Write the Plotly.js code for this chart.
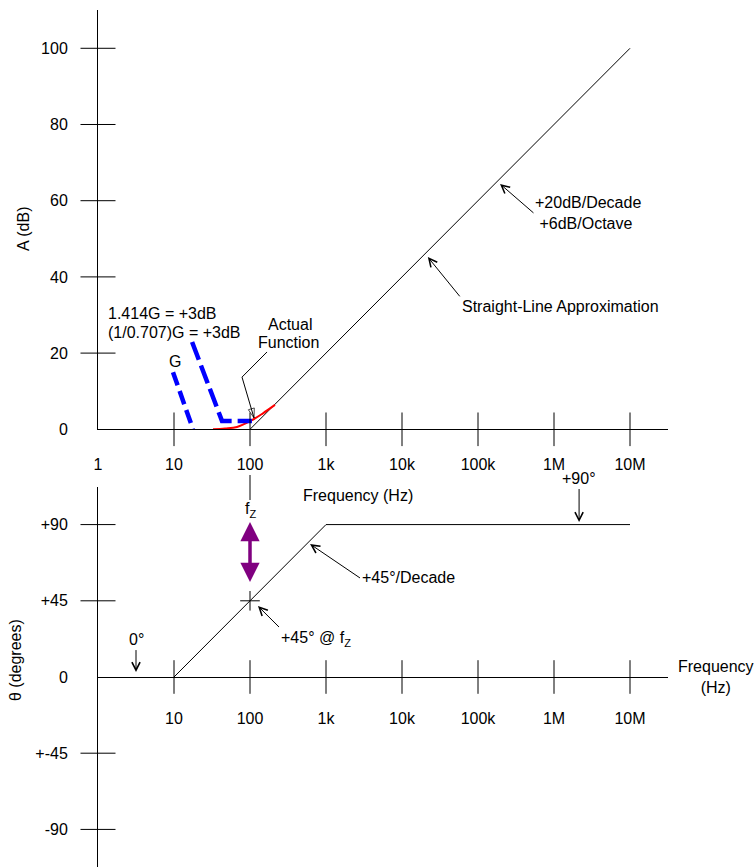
<!DOCTYPE html>
<html>
<head>
<meta charset="utf-8">
<script src="https://cdn.plot.ly/plotly-3.0.1.min.js"></script>
<style>html,body{margin:0;padding:0;background:#fff;}#chart{width:755px;height:867px;}</style>
</head>
<body>
<div id="chart"></div>
<script>
// ---------- data ----------
const freqTicks = [1, 10, 100, 1e3, 1e4, 1e5, 1e6, 1e7];
const freqLabels = ['1', '10', '100', '1k', '10k', '100k', '1M', '10M'];
const gainTicks = [0, 20, 40, 60, 80, 100];
const gainLabels = ['0', '20', '40', '60', '80', '100'];
const phaseTicks = [90, 45, 0, -45, -90];
const phaseLabels = ['+90', '+45', '0', '+-45', '-90'];

// magnitude: straight-line approximation
const approxFreq = [100, 1e7];
const approxGain = [0, 100];
// magnitude: actual function (red)
const actualFreq = [32.6, 47, 67.5, 106, 148, 213];
const actualGain = [0, 0.2, 0.6, 2.4, 4.2, 6.4];
// blue dashed guides
const gFreq = [9.7, 17.8];
const gGain = [15.0, 0];
const g3Freq = [17.3, 42.8, 106];
const g3Gain = [22.9, 2.2, 2.2];
// bent pointer for "Actual Function"
const leaderFreq = [167.5, 78.5, 113];
const leaderGain = [20.3, 13.7, 2.97];

// phase
const phaseFreq = [10, 1e3, 1e7];
const phaseDeg = [0, 90, 90];
const fz = 100;
const phaseAtFz = 45;

// ---------- helpers ----------
const FONT = 'Arial, "Liberation Sans", sans-serif';
const lg = Math.log10;
const tickFreq = freqTicks.slice(1);
const zerosF = tickFreq.map(() => 0);
const gainTickMarks = gainTicks.filter(v => v !== 0);
const phaseTickMarks = phaseTicks.filter(v => v !== 0);
const FZ = 'f<span style="font-size:11px;baseline-shift:-4px">Z</span>';

const traces = [
  // top
  {x: approxFreq, y: approxGain, xaxis: 'x', yaxis: 'y', mode: 'lines', line: {color: '#000', width: 1}},
  {x: actualFreq, y: actualGain, xaxis: 'x', yaxis: 'y', mode: 'lines', line: {color: '#ff0000', width: 2, shape: 'spline'}},
  {x: gFreq, y: gGain, xaxis: 'x', yaxis: 'y', mode: 'lines', line: {color: '#0000ff', width: 4.5, dash: '14px,6px'}},
  {x: g3Freq, y: g3Gain, xaxis: 'x', yaxis: 'y', mode: 'lines', line: {color: '#0000ff', width: 4.5, dash: '19px,6px'}},
  {x: leaderFreq, y: leaderGain, xaxis: 'x', yaxis: 'y', mode: 'lines+markers', line: {color: '#000', width: 1},
   marker: {symbol: 'arrow-open', angleref: 'previous', size: [0, 0, 10], color: '#000', line: {width: 1, color: '#000'}}},
  {x: tickFreq, y: zerosF, xaxis: 'x', yaxis: 'y', mode: 'markers', cliponaxis: false,
   marker: {symbol: 'line-ns-open', size: 24, color: '#000', line: {width: 1, color: '#000'}}},
  {x: gainTickMarks.map(() => freqTicks[0]), y: gainTickMarks, xaxis: 'x', yaxis: 'y', mode: 'markers', cliponaxis: false,
   marker: {symbol: 'line-ew-open', size: 25, color: '#000', line: {width: 1, color: '#000'}}},
  // bottom
  {x: phaseFreq, y: phaseDeg, xaxis: 'x2', yaxis: 'y2', mode: 'lines', line: {color: '#000', width: 1}},
  {x: [fz], y: [phaseAtFz], xaxis: 'x2', yaxis: 'y2', mode: 'markers', cliponaxis: false,
   marker: {symbol: 'cross-thin-open', size: 14, color: '#000', line: {width: 1, color: '#000'}}},
  {x: tickFreq, y: zerosF, xaxis: 'x2', yaxis: 'y2', mode: 'markers', cliponaxis: false,
   marker: {symbol: 'line-ns-open', size: 24, color: '#000', line: {width: 1, color: '#000'}}},
  {x: phaseTickMarks.map(() => freqTicks[0]), y: phaseTickMarks, xaxis: 'x2', yaxis: 'y2', mode: 'markers', cliponaxis: false,
   marker: {symbol: 'line-ew-open', size: 25, color: '#000', line: {width: 1, color: '#000'}}}
];

const fontSpec = {family: FONT, size: 16, color: '#000'};
function txt(text, x, y, xref, yref, extra) {
  return Object.assign({text: text, x: x, y: y, xref: xref, yref: yref, showarrow: false,
    xanchor: 'center', yanchor: 'middle', font: fontSpec}, extra || {});
}
// text sitting at the tail of an arrow that points to (x, y)
function tarrow(text, x, y, ax, ay, xr, yr, xanchor, yanchor, extra) {
  return Object.assign({text: text, x: x, y: y, ax: ax, ay: ay, xref: xr, yref: yr, axref: xr, ayref: yr,
    xanchor: xanchor, yanchor: yanchor, align: 'left', font: fontSpec,
    showarrow: true, arrowhead: 5, arrowsize: 1.6, arrowwidth: 1, arrowcolor: '#000'}, extra || {});
}

const annotations = [
  // top texts
  tarrow('+20dB/Decade<br>\u00a0+6dB/Octave', 5.29, 64.4, 5.73, 56.8, 'x', 'y', 'left', 'middle'),
  tarrow('Straight-Line Approximation', 4.34, 45.2, 4.76, 34.9, 'x', 'y', 'left', 'top'),
  txt('1.414G = +3dB', 0.105, 30.3, 'x', 'y', {xanchor: 'left'}),
  txt('(1/0.707)G = +3dB', 0.105, 25.5, 'x', 'y', {xanchor: 'left'}),
  txt('Actual', 2.526, 27.4, 'x', 'y'),
  txt('Function', 2.5, 22.7, 'x', 'y'),
  txt('G', 1.013, 17.7, 'x', 'y'),
  txt('A (dB)', 24 / 755, (867 - 229) / 867, 'paper', 'paper', {textangle: -90}),
  txt('Frequency (Hz)', 358 / 755, (867 - 495) / 867, 'paper', 'paper'),
  // bottom texts with arrows
  tarrow(FZ, lg(fz), 56.1, lg(fz), 91.5, 'x2', 'y2', 'center', 'bottom',
    {arrowside: 'end+start', arrowhead: 2, startarrowhead: 2, arrowsize: 1.1, startarrowsize: 1.1,
     arrowwidth: 3.5, arrowcolor: '#800080'}),
  tarrow('+45\u00b0/Decade', 2.79, 78.5, 3.447, 58.5, 'x2', 'y2', 'left', 'middle'),
  tarrow('+45\u00b0 @ ' + FZ, 2.105, 41.9, 2.382, 29.5, 'x2', 'y2', 'left', 'top'),
  tarrow('0\u00b0', 0.5, 2.95, 0.5, 15.9, 'x2', 'y2', 'center', 'bottom'),
  tarrow('+90\u00b0', 6.33, 91.5, 6.33, 111, 'x2', 'y2', 'center', 'bottom'),
  txt('\u03b8 (degrees)', 15 / 755, (867 - 660) / 867, 'paper', 'paper', {textangle: -90}),
  txt('Frequency<br>(Hz)', 716 / 755, (867 - 677) / 867, 'paper', 'paper')
];

const shapes = [
  {type: 'line', xref: 'x', yref: 'paper', x0: fz, x1: fz, y0: (867 - 475) / 867, y1: (867 - 500) / 867,
   line: {color: '#000', width: 1}}
];

const xDom = [98 / 755, 668 / 755];
const baseX = {type: 'log', range: [0, 7.5], domain: xDom, showgrid: false, zeroline: false,
  tickvals: freqTicks, ticktext: freqLabels, ticks: '', tickfont: fontSpec, fixedrange: true};

const layout = {
  width: 755, height: 867,
  margin: {l: 0, r: 0, t: 0, b: 0},
  paper_bgcolor: '#fff', plot_bgcolor: '#fff',
  showlegend: false, hovermode: false,
  font: fontSpec,
  xaxis: Object.assign({}, baseX, {anchor: 'y', showline: true, linecolor: '#000', linewidth: 1, ticklabelstandoff: 20}),
  xaxis2: Object.assign({}, baseX, {anchor: 'free', position: (867 - 677) / 867, showline: false,
    tickvals: tickFreq, ticktext: freqLabels.slice(1), ticklabelstandoff: 30}),
  yaxis: {domain: [(867 - 429.3) / 867, (867 - 10) / 867], range: [0, 110.05], anchor: 'x',
    showline: true, linecolor: '#000', linewidth: 1, showgrid: false, zeroline: false,
    tickvals: gainTicks, ticktext: gainLabels, ticks: '', ticklabelstandoff: 26,
    tickfont: fontSpec, fixedrange: true},
  yaxis2: {domain: [0, (867 - 487) / 867], range: [-112.2, 112.2], anchor: 'x2',
    showline: true, linecolor: '#000', linewidth: 1, showgrid: false,
    zeroline: true, zerolinecolor: '#000', zerolinewidth: 1,
    tickvals: phaseTicks, ticktext: phaseLabels, ticks: '', ticklabelstandoff: 26,
    tickfont: fontSpec, fixedrange: true},
  annotations: annotations,
  shapes: shapes
};

Plotly.newPlot('chart', traces, layout, {displayModeBar: false, staticPlot: true});
</script>
</body>
</html>
